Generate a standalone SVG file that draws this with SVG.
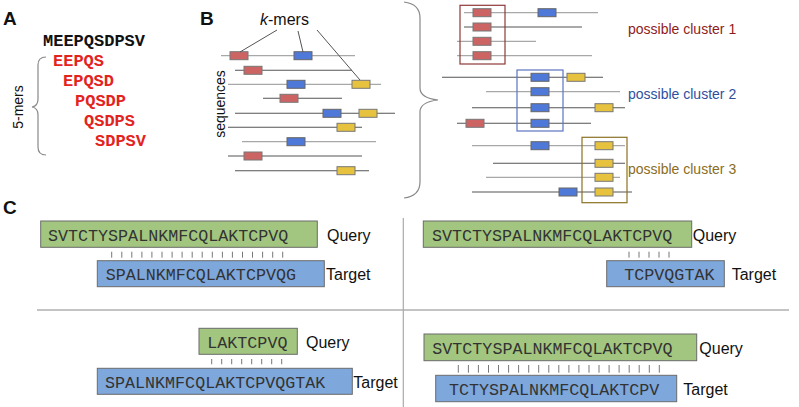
<svg xmlns="http://www.w3.org/2000/svg" width="799" height="407" viewBox="0 0 799 407">
<style>
.lbl{font-family:"Liberation Sans",Arial,sans-serif;font-weight:bold;font-size:19px;fill:#111}
.sans{font-family:"Liberation Sans",Arial,sans-serif;fill:#111}
.mono{font-family:"Liberation Mono","Courier New",monospace}
.kb{font-family:"Liberation Mono","Courier New",monospace;font-weight:bold;font-size:17px}
.seq{font-family:"Liberation Mono","Courier New",monospace;font-size:16.7px;fill:#333}
.ln{stroke:#a8a8a8;stroke-width:1.3;fill:none}
.ld{stroke:#555;stroke-width:1.1;fill:none}
.r{fill:#cd6464;stroke:#777;stroke-width:1}
.b{fill:#4e79d8;stroke:#666;stroke-width:1}
.y{fill:#e6c23e;stroke:#777;stroke-width:1}
.q{fill:#a2c67f;stroke:#6b6b6b;stroke-width:1}
.t{fill:#7ea7dc;stroke:#6b6b6b;stroke-width:1}
.tick{stroke:#777;stroke-width:1;fill:none}
.brace{stroke:#888;stroke-width:1.2;fill:none}
</style>

<!-- Panel A -->
<g id="panelA">
<text class="lbl" x="3" y="25">A</text>
<text class="kb" x="43" y="46" fill="#111">MEEPQSDPSV</text>
<text class="kb" x="53" y="66" fill="#e3241e">EEPQS</text>
<text class="kb" x="63" y="86" fill="#e3241e">EPQSD</text>
<text class="kb" x="75" y="106" fill="#e3241e">PQSDP</text>
<text class="kb" x="84" y="126" fill="#e3241e">QSDPS</text>
<text class="kb" x="95" y="146" fill="#e3241e">SDPSV</text>
<path class="brace" d="M46,57 Q38,57 38,65 V99 Q38,106 32,107 Q38,108 38,115 V147 Q38,155 46,155"/>
<text class="sans" font-size="14" transform="translate(23,107) rotate(-90)" text-anchor="middle">5-mers</text>
</g>

<!-- Panel B left -->
<g id="panelB-left">
<text class="lbl" x="200" y="25">B</text>
<text class="sans" font-size="16" x="260" y="25"><tspan font-style="italic">k</tspan>-mers</text>
<text class="sans" font-size="14" transform="translate(225,104) rotate(-90)" text-anchor="middle">sequences</text>
<line class="ln" x1="221" y1="55.7" x2="355" y2="55.7"/>
<line class="ld" x1="235" y1="70.3" x2="352" y2="70.3"/>
<line class="ln" x1="228" y1="84.3" x2="381" y2="84.3"/>
<line class="ld" x1="263" y1="98.3" x2="342" y2="98.3"/>
<line class="ld" x1="235" y1="113.3" x2="395" y2="113.3"/>
<line class="ld" x1="228" y1="127.3" x2="362" y2="127.3"/>
<line class="ln" x1="242" y1="141.7" x2="376" y2="141.7"/>
<line class="ld" x1="228" y1="156" x2="362" y2="156"/>
<line class="ld" x1="235" y1="170.7" x2="369" y2="170.7"/>
<rect class="r" x="230" y="51.7" width="18" height="8"/>
<rect class="b" x="294" y="51.7" width="18" height="8"/>
<rect class="r" x="244" y="66.3" width="18" height="8"/>
<rect class="b" x="287" y="80.3" width="18" height="8"/>
<rect class="y" x="352" y="80.3" width="18" height="8"/>
<rect class="r" x="280" y="94.3" width="18" height="8"/>
<rect class="b" x="323" y="109.3" width="18" height="8"/>
<rect class="y" x="359" y="109.3" width="18" height="8"/>
<rect class="y" x="337" y="123.3" width="18" height="8"/>
<rect class="b" x="287" y="137.7" width="18" height="8"/>
<rect class="r" x="244" y="152" width="18" height="8"/>
<rect class="y" x="337" y="166.7" width="18" height="8"/>
<path class="brace" d="M404,2 Q420,4 420,18 V88 Q420,98 438,100 Q420,102 420,112 V182 Q420,196 404,198"/>
</g>

<g id="connectors">
<line stroke="#555" stroke-width="1" x1="277" y1="30" x2="240" y2="52"/>
<line stroke="#555" stroke-width="1" x1="298" y1="31" x2="303" y2="52"/>
<line stroke="#555" stroke-width="1" x1="317" y1="30" x2="360" y2="80"/>
</g>

<!-- Panel B right -->
<g id="panelB-right">
<line class="ln" x1="464" y1="12.7" x2="598" y2="12.7"/>
<line class="ld" x1="464" y1="27" x2="582" y2="27"/>
<line class="ln" x1="457" y1="41.3" x2="536" y2="41.3"/>
<line class="ln" x1="457" y1="55.7" x2="592" y2="55.7"/>
<line class="ld" x1="442" y1="77.3" x2="603" y2="77.3"/>
<line class="ln" x1="486" y1="91.7" x2="620" y2="91.7"/>
<line class="ld" x1="472" y1="107.7" x2="625" y2="107.7"/>
<line class="ld" x1="457" y1="123.3" x2="591" y2="123.3"/>
<line class="ln" x1="472" y1="145.7" x2="625" y2="145.7"/>
<line class="ld" x1="493" y1="163.3" x2="625" y2="163.3"/>
<line class="ln" x1="486" y1="177.3" x2="620" y2="177.3"/>
<line class="ld" x1="472" y1="192" x2="632" y2="192"/>
<rect class="r" x="473" y="8.7" width="18" height="8"/>
<rect class="b" x="538" y="8.7" width="18" height="8"/>
<rect class="r" x="473" y="23" width="18" height="8"/>
<rect class="r" x="473" y="37.3" width="18" height="8"/>
<rect class="r" x="473" y="51.7" width="18" height="8"/>
<rect class="b" x="531" y="73.3" width="18" height="8"/>
<rect class="y" x="567" y="73.3" width="18" height="8"/>
<rect class="b" x="531" y="87.7" width="18" height="8"/>
<rect class="b" x="531" y="103.7" width="18" height="8"/>
<rect class="y" x="595" y="103.7" width="18" height="8"/>
<rect class="r" x="466" y="119.3" width="18" height="8"/>
<rect class="b" x="531" y="119.3" width="18" height="8"/>
<rect class="b" x="531" y="141.7" width="18" height="8"/>
<rect class="y" x="595" y="141.7" width="18" height="8"/>
<rect class="y" x="595" y="159.3" width="18" height="8"/>
<rect class="y" x="595" y="173.3" width="18" height="8"/>
<rect class="b" x="559" y="188" width="18" height="8"/>
<rect class="y" x="595" y="188" width="18" height="8"/>
</g>
<g id="cluster1">
<rect x="460" y="5.3" width="45" height="58.7" fill="none" stroke="#8e3a3a" stroke-width="1.2"/>
<text class="sans" font-size="14" x="628" y="34" style="fill:#8e1c1c">possible cluster 1</text>
</g>
<g id="cluster2">
<rect x="517" y="70" width="46" height="61" fill="none" stroke="#5a74c0" stroke-width="1.2"/>
<text class="sans" font-size="14" x="628" y="99" style="fill:#2f4f9e">possible cluster 2</text>
</g>
<g id="cluster3">
<rect x="582" y="137.3" width="45" height="65.4" fill="none" stroke="#8a7224" stroke-width="1.2"/>
<text class="sans" font-size="14" x="628" y="174" style="fill:#8a6d1e">possible cluster 3</text>
</g>

<!-- Panel C -->
<g id="panelC">
<text class="lbl" x="3" y="214">C</text>
<line stroke="#888" stroke-width="1" x1="37" y1="310" x2="789" y2="310"/>
<line stroke="#aaa" stroke-width="1.2" x1="403.3" y1="218" x2="403.3" y2="407"/>
</g>

<g id="align1">
<rect class="q" x="40.7" y="221" width="276.6" height="26.3"/>
<text class="seq" x="48" y="241">SVTCTYSPALNKMFCQLAKTCPVQ</text>
<text class="sans" font-size="16" x="327" y="241">Query</text>
<path class="tick" d="M111.7,251.7V257.7M121.8,251.7V257.7M131.8,251.7V257.7M141.9,251.7V257.7M151.9,251.7V257.7M162,251.7V257.7M172.1,251.7V257.7M182.1,251.7V257.7M192.2,251.7V257.7M202.2,251.7V257.7M212.3,251.7V257.7M222.4,251.7V257.7M232.4,251.7V257.7M242.5,251.7V257.7M252.5,251.7V257.7M262.6,251.7V257.7M272.7,251.7V257.7M282.7,251.7V257.7"/>
<rect class="t" x="97.3" y="260.7" width="227" height="26"/>
<text class="seq" x="105.7" y="280">SPALNKMFCQLAKTCPVQG</text>
<text class="sans" font-size="16" x="326" y="280">Target</text>
</g>

<g id="align2">
<rect class="q" x="423.3" y="221" width="268.4" height="26.3"/>
<text class="seq" x="432" y="241">SVTCTYSPALNKMFCQLAKTCPVQ</text>
<text class="sans" font-size="16" x="692.7" y="241">Query</text>
<path class="tick" d="M629,251.7V257.7M639,251.7V257.7M649,251.7V257.7M659,251.7V257.7M669,251.7V257.7"/>
<rect class="t" x="606.7" y="260.7" width="117.6" height="26"/>
<text class="seq" x="624.3" y="280">TCPVQGTAK</text>
<text class="sans" font-size="16" x="731.7" y="280">Target</text>
</g>

<g id="align3">
<rect class="q" x="199" y="328.3" width="98.3" height="26"/>
<text class="seq" x="207.3" y="348.3">LAKTCPVQ</text>
<text class="sans" font-size="16" x="306" y="348.3">Query</text>
<path class="tick" d="M211.7,359V364.3M221.7,359V364.3M231.7,359V364.3M241.7,359V364.3M251.7,359V364.3M261.7,359V364.3M271.7,359V364.3M281.7,359V364.3"/>
<rect class="t" x="97.3" y="368.3" width="255" height="26"/>
<text class="seq" x="105" y="388.3">SPALNKMFCQLAKTCPVQGTAK</text>
<text class="sans" font-size="16" x="353.3" y="388.3">Target</text>
</g>

<g id="align4">
<rect class="q" x="424" y="334" width="272.7" height="26.7"/>
<text class="seq" x="432.3" y="354.3">SVTCTYSPALNKMFCQLAKTCPVQ</text>
<text class="sans" font-size="16" x="699.3" y="354.3">Query</text>
<path class="tick" d="M458.3,365V372.7M468.4,365V372.7M478.4,365V372.7M488.5,365V372.7M498.5,365V372.7M508.6,365V372.7M518.6,365V372.7M528.7,365V372.7M538.7,365V372.7M548.8,365V372.7M558.8,365V372.7M568.9,365V372.7M578.9,365V372.7M589,365V372.7M599,365V372.7M609.1,365V372.7M619.1,365V372.7M629.2,365V372.7M639.2,365V372.7M649.3,365V372.7M659.3,365V372.7"/>
<rect class="t" x="435.7" y="375.3" width="241" height="26.4"/>
<text class="seq" x="449" y="395">TCTYSPALNKMFCQLAKTCPV</text>
<text class="sans" font-size="16" x="683.3" y="395">Target</text>
</g>
</svg>
